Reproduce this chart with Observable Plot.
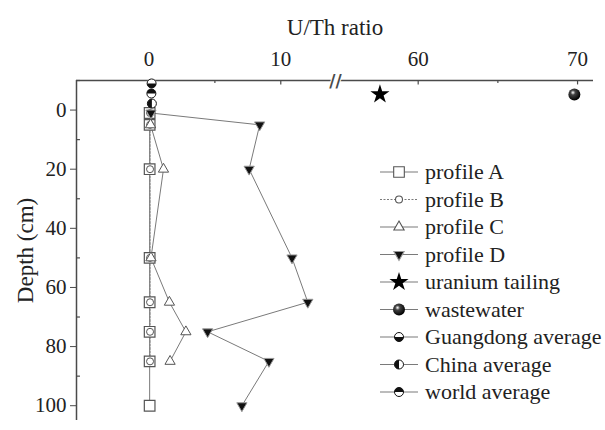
<!DOCTYPE html>
<html><head><meta charset="utf-8">
<script src="https://cdn.jsdelivr.net/npm/d3@7"></script>
<script src="https://cdn.jsdelivr.net/npm/@observablehq/plot@0.6"></script>
<style>
body{margin:0;background:#fff;}
#wrap{position:relative;width:605px;height:430px;}
</style></head><body><div id="wrap"></div>
<script>
// ---- data ----
const depthA = [1, 5, 20, 50, 65, 75, 85, 100];
const ratioA = [0.05, 0.05, 0.05, 0.05, 0.05, 0.05, 0.05, 0.05];
const depthB = [1, 5, 20, 50, 65, 75, 85];
const ratioB = [0.08, 0.08, 0.08, 0.08, 0.08, 0.08, 0.08];
const depthC = [5, 20, 50, 65, 75, 85];
const ratioC = [0.12, 1.1, 0.15, 1.55, 2.8, 1.6];
const depthD = [1, 5, 20, 50, 65, 75, 85, 100];
const ratioD = [0.15, 8.4, 7.6, 10.85, 12.05, 4.45, 9.1, 7.05];
const singleNames = ["uranium tailing", "wastewater", "Guangdong average", "China average", "world average"];
const singleRatio = [57.6, 69.8, 0.2, 0.22, 0.18];
const singleDepth = [-5.3, -5.3, -9, -2.2, -5.6];
const legendNames = ["profile A", "profile B", "profile C", "profile D", "uranium tailing", "wastewater", "Guangdong average", "China average", "world average"];
const xMajor = [0, 10, 60, 70];
const xMinor = [5, 65];
const yMajor = [0, 20, 40, 60, 80, 100];
const yMinor = [-10, 10, 30, 50, 70, 90];
const xDomain = [-5.5, 14, 55, 71];   // broken axis: two segments
const yDomain = [-10, 105];

const FONT = "'Liberation Serif', 'Times New Roman', serif";
const LINE = "#7a7a7a", MK = "#555", AX = "#4a4a4a";

const rows = (d, v) => d.map((dd, i) => ({depth: dd, ratio: v[i]}));
const A = rows(depthA, ratioA), B = rows(depthB, ratioB), C = rows(depthC, ratioC), D = rows(depthD, ratioD);
const singles = singleNames.map((n, i) => ({name: n, ratio: singleRatio[i], depth: singleDepth[i]}));

// custom symbols
const triDown = {draw(ctx, size) {
  const s = Math.sqrt(4 * size / Math.sqrt(3)), h = Math.sqrt(3) / 2 * s;
  ctx.moveTo(-s / 2, -h / 3); ctx.lineTo(s / 2, -h / 3); ctx.lineTo(0, 2 * h / 3); ctx.closePath();
}};
const half = (a0, a1) => ({draw(ctx, size) {
  const r = Math.sqrt(size / Math.PI);
  ctx.moveTo(r * Math.cos(a0), r * Math.sin(a0)); ctx.arc(0, 0, r, a0, a1); ctx.closePath();
}});
const halfSym = {
  "Guangdong average": half(0, Math.PI),
  "China average": half(Math.PI / 2, 3 * Math.PI / 2),
  "world average": half(Math.PI, 2 * Math.PI)
};
const avg = singles.filter(d => halfSym[d.name]);

const marks = [
  // axis lines
  Plot.ruleY([yDomain[0]], {x1: xDomain[0], x2: xDomain[1], stroke: AX, strokeWidth: 1.5}),
  Plot.ruleY([yDomain[0]], {x1: xDomain[2], x2: xDomain[3], stroke: AX, strokeWidth: 1.5}),
  Plot.ruleX([xDomain[0]], {y1: yDomain[0], y2: yDomain[1], stroke: AX, strokeWidth: 1.5}),
  Plot.text(["//"], {x: [xDomain[1]], y: [yDomain[0]], dx: 2, dy: 1, fontSize: 17, fontWeight: "bold", fill: AX, stroke: "white", strokeWidth: 2, fontFamily: "DejaVu Sans"}),
  // x ticks (inward)
  Plot.ruleX(xMajor, {y1: yDomain[0], y2: yDomain[0] + 1.5, stroke: AX, strokeWidth: 1.2}),
  Plot.ruleX(xMinor, {y1: yDomain[0], y2: yDomain[0] + 1.0, stroke: AX, strokeWidth: 1.2}),
  // y minor ticks (inward)
  Plot.ruleY(yMinor, {x1: xDomain[0], x2: xDomain[0] + 0.3, stroke: AX, strokeWidth: 1.2}),
  Plot.axisX({anchor: "top", ticks: xMajor, tickSize: 0, tickPadding: 15, fontSize: 21, label: null}),
  Plot.axisX({anchor: "top", ticks: [], label: "U/Th ratio", fontSize: 23, labelAnchor: "center", labelOffset: 62, labelArrow: "none"}),
  Plot.axisY({anchor: "left", ticks: yMajor, tickSize: 6, tickPadding: 4, fontSize: 21, stroke: AX, label: null}),
  Plot.axisY({anchor: "left", ticks: [], label: "Depth (cm)", fontSize: 23, labelAnchor: "center", labelOffset: 60, labelArrow: "none"}),
  // profile lines
  Plot.line(B, {x: "ratio", y: "depth", stroke: LINE, strokeWidth: 1, strokeDasharray: "2,1.5"}),
  Plot.line(A, {x: "ratio", y: "depth", stroke: LINE, strokeWidth: 1}),
  Plot.line(C, {x: "ratio", y: "depth", stroke: LINE, strokeWidth: 1}),
  Plot.line(D, {x: "ratio", y: "depth", stroke: LINE, strokeWidth: 1}),
  // markers
  Plot.dot(A, {x: "ratio", y: "depth", symbol: "square", r: 6, fill: "white", stroke: MK, strokeWidth: 1.2}),
  Plot.dot(B, {x: "ratio", y: "depth", symbol: "circle", r: 3.5, fill: "white", stroke: MK, strokeWidth: 1}),
  Plot.dot(C, {x: "ratio", y: "depth", symbol: "triangle", r: 3.8, fill: "white", stroke: MK, strokeWidth: 1}),
  Plot.dot(D, {x: "ratio", y: "depth", symbol: triDown, r: 3.8, fill: "#111", stroke: "#999", strokeWidth: 1}),
  Plot.dot(singles.filter(d => d.name === "uranium tailing"), {x: "ratio", y: "depth", symbol: "star", r: 6, fill: "#000"}),
  Plot.dot(singles.filter(d => d.name === "wastewater"), {x: "ratio", y: "depth", r: 6, fill: "url(#sph)"}),
  Plot.dot(avg, {x: "ratio", y: "depth", r: 4.5, fill: "white", stroke: "#111", strokeWidth: 1}),
  ...avg.map(d => Plot.dot([d], {x: "ratio", y: "depth", r: 4.5, symbol: halfSym[d.name], fill: "#111"}))
];

const chart = Plot.plot({
  width: 605, height: 430,
  marginTop: 80, marginLeft: 76, marginRight: 12, marginBottom: 10,
  style: {fontFamily: FONT, fontSize: "21px", background: "white", color: "#222", overflow: "visible"},
  x: {type: "linear", domain: xDomain, range: [76, 333, 338, 593], label: null},
  y: {domain: yDomain, reverse: true, label: null},
  marks
});
document.getElementById("wrap").appendChild(chart);

// gradient for the wastewater sphere
const svg = d3.select(chart);
svg.insert("defs", ":first-child").html(
  '<radialGradient id="sph" cx="38%" cy="35%" r="65%"><stop offset="0" stop-color="#fff"/><stop offset="0.3" stop-color="#444"/><stop offset="1" stop-color="#000"/></radialGradient>');

// legend
const legendStyle = {
  "profile A": {sym: d3.symbolSquare, r: 6, fill: "white", stroke: MK, dash: null},
  "profile B": {sym: d3.symbolCircle, r: 3.5, fill: "white", stroke: MK, dash: "2,1.5"},
  "profile C": {sym: d3.symbolTriangle, r: 3.8, fill: "white", stroke: MK, dash: null},
  "profile D": {sym: triDown, r: 3.8, fill: "#111", stroke: "#999", dash: null},
  "uranium tailing": {sym: d3.symbolStar, r: 6, fill: "#000", stroke: "none", dash: null},
  "wastewater": {sym: d3.symbolCircle, r: 6, fill: "url(#sph)", stroke: "none", dash: null},
  "Guangdong average": {half: true},
  "China average": {half: true},
  "world average": {half: true}
};
const lg = svg.append("g").attr("transform", "translate(380,172)");
legendNames.forEach((name, i) => {
  const g = lg.append("g").attr("transform", `translate(0,${i * 27.5})`);
  const st = legendStyle[name];
  g.append("line").attr("x1", 0).attr("x2", 38).attr("y1", 0).attr("y2", 0)
    .attr("stroke", LINE).attr("stroke-width", 1.2).attr("stroke-dasharray", st.dash);
  const sym = (type, r) => d3.symbol(type, r * r * Math.PI)();
  if (st.half) {
    g.append("path").attr("transform", "translate(19,0)").attr("d", sym(d3.symbolCircle, 4.5)).attr("fill", "white").attr("stroke", "#111");
    g.append("path").attr("transform", "translate(19,0)").attr("d", sym(halfSym[name], 4.5)).attr("fill", "#111");
  } else {
    g.append("path").attr("transform", "translate(19,0)").attr("d", sym(st.sym, st.r))
      .attr("fill", st.fill).attr("stroke", st.stroke).attr("stroke-width", 1.1);
  }
  g.append("text").attr("x", 45).attr("y", 0).attr("dy", "0.32em")
    .style("text-anchor", "start").style("font-family", FONT).style("font-size", "22px")
    .attr("fill", "#222").text(name);
});
</script></body></html>
